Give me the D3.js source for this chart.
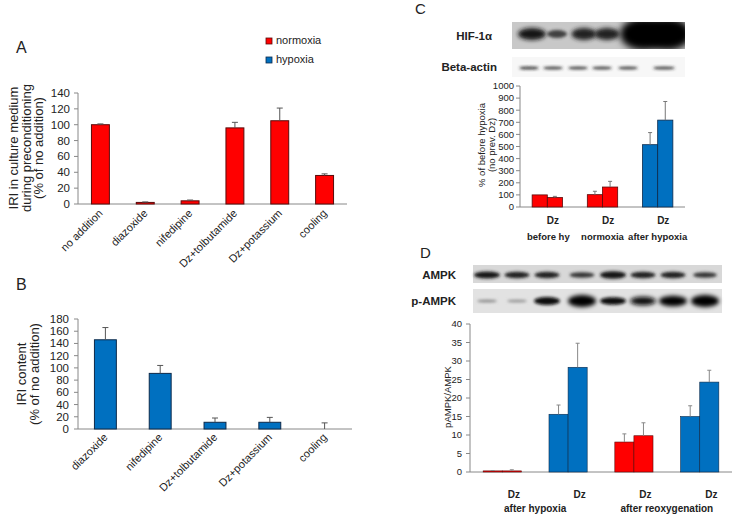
<!DOCTYPE html>
<html><head><meta charset="utf-8">
<script src="https://cdn.jsdelivr.net/npm/d3@7"></script>
<style>body{margin:0;background:#fff}svg{display:block}text{font-family:"Liberation Sans",Arial,sans-serif;fill:#222}</style>
</head><body>
<svg id="c" width="736" height="517"></svg>
<script>
// ---------- data ----------
const catsA = ["no addition","diazoxide","nifedipine","Dz+tolbutamide","Dz+potassium","cooling"];
const valsA = [100, 2, 4, 96, 105, 36];
const errA  = [1, 0.6, 1, 7, 16, 2];
const ticksA = [0,20,40,60,80,100,120,140];

const catsB = ["diazoxide","nifedipine","Dz+tolbutamide","Dz+potassium","cooling"];
const valsB = [146, 91, 11, 11, 0];
const errB  = [20, 13, 7, 8, 10];
const ticksB = [0,20,40,60,80,100,120,140,160,180];

const groupsC = ["before hy","normoxia","after hypoxia"];
const condC = ["normoxia","normoxia","hypoxia"];
const valsC = [[100,78],[102,165],[515,718]];
const errC  = [[0,10],[28,47],[100,154]];
const ticksC = [0,100,200,300,400,500,600,700,800,900,1000];

const condD = ["normoxia","hypoxia","normoxia","hypoxia"];
const valsD = [[0.3,0.3],[15.6,28.3],[8.1,9.8],[15,24.3]];
const errD  = [[0.1,0.3],[2.5,6.5],[2.2,3.5],[2.9,3.2]];
const groupLabelsD = ["after hypoxia","after reoxygenation"];
const ticksD = [0,5,10,15,20,25,30,35,40];

const legendItems = ["normoxia","hypoxia"];
// western blot bands: [intensity 0..1, thickness px, width px]
const hifBands   = [[0.9,12,28],[0.7,8,20],[0.85,12,25],[0.85,12,25],[1,32,46],[1,32,46]];
const actinBands = [[0.88,2.5,20],[0.8,2.5,20],[0.8,2.5,20],[0.8,2.5,20],[0.8,2.5,20],[0.82,2.5,22]];
const ampkBands  = [[0.9,7,26],[0.85,6.5,25],[0.85,6.5,25],[0.75,5.5,25],[0.9,7.5,26],[0.85,6.5,25],[0.85,6.5,25],[0.75,5.5,24]];
const pampkBands = [[0.4,2.5,20],[0.35,2.5,20],[0.95,8,26],[1,12,28],[0.95,7.5,26],[0.95,8.5,26],[1,10.5,28],[1,12,28]];

const colors = {normoxia:"#ff0000", hypoxia:"#0070c0"};
const strokes = {normoxia:"#5a0a0a", hypoxia:"#0d2a4a"};

const svg = d3.select("#c");
const defs = svg.append("defs");
[["blur",1.4],["blur2",3.5],["blur3",2.2]].forEach(([id,s])=>
  defs.append("filter").attr("id",id).attr("x","-50%").attr("y","-100%").attr("width","200%").attr("height","300%")
    .append("feGaussianBlur").attr("stdDeviation",s));

function yAxis(g, y, ticks, x0, fs, gap){
  g.append("line").attr("x1",x0).attr("x2",x0).attr("y1",y(ticks[ticks.length-1])).attr("y2",y(0)).attr("stroke","#888");
  ticks.forEach(t=>{
    g.append("line").attr("x1",x0-4).attr("x2",x0).attr("y1",y(t)).attr("y2",y(t)).attr("stroke","#888");
    g.append("text").attr("x",x0-gap).attr("y",y(t)).attr("dy","0.35em").attr("text-anchor","end").attr("font-size",fs).text(t);
  });
}
function errBar(g, x, y1, y2, cap, col){
  g.append("line").attr("x1",x).attr("x2",x).attr("y1",y1).attr("y2",y2).attr("stroke",col).attr("stroke-width",1);
  g.append("line").attr("x1",x-cap).attr("x2",x+cap).attr("y1",y2).attr("y2",y2).attr("stroke",col).attr("stroke-width",1);
}

// ---------- Panel A ----------
{
  const g = svg.append("g");
  const x = d3.scaleBand().domain(catsA).range([78,347]).paddingInner(0.6).paddingOuter(0.3);
  const y = d3.scaleLinear().domain([0,140]).range([204,93]);
  yAxis(g, y, ticksA, 78, 11.5, 8);
  g.append("line").attr("x1",78).attr("x2",347).attr("y1",204).attr("y2",204).attr("stroke","#888");
  catsA.forEach((c,i)=>{
    g.append("rect").attr("x",x(c)).attr("y",y(valsA[i])).attr("width",x.bandwidth()).attr("height",y(0)-y(valsA[i]))
      .attr("fill",colors.normoxia).attr("stroke",strokes.normoxia).attr("stroke-width",1);
    errBar(g, x(c)+x.bandwidth()/2, y(valsA[i]), y(valsA[i]+errA[i]), 3, "#555");
    const cx = x(c)+x.bandwidth()/2+3;
    g.append("text").attr("transform",`translate(${cx},214) rotate(-45)`).attr("text-anchor","end").attr("font-size",11).text(c);
  });
  const t = g.append("text").attr("transform","translate(0,148) rotate(-90)").attr("text-anchor","middle").attr("font-size",13);
  ["IRI in culture medium","during preconditioning","(% of no addition)"].forEach((s,i)=>
    t.append("tspan").attr("x",0).attr("y",18+i*12.5).text(s));
  g.append("text").attr("x",16).attr("y",53).attr("font-size",16).text("A");
  legendItems.forEach((k,i)=>{
    g.append("rect").attr("x",266).attr("y",38+i*19).attr("width",6).attr("height",6).attr("fill",colors[k]).attr("stroke",strokes[k]).attr("stroke-width",0.8);
    g.append("text").attr("x",276).attr("y",44+i*19).attr("font-size",11).text(k);
  });
}

// ---------- Panel B ----------
{
  const g = svg.append("g");
  const x = d3.scaleBand().domain(catsB).range([78,352]).paddingInner(0.6).paddingOuter(0.3);
  const y = d3.scaleLinear().domain([0,180]).range([429,319]);
  yAxis(g, y, ticksB, 78, 11.5, 9);
  g.append("line").attr("x1",78).attr("x2",352).attr("y1",429).attr("y2",429).attr("stroke","#888");
  catsB.forEach((c,i)=>{
    if(valsB[i]>0) g.append("rect").attr("x",x(c)).attr("y",y(valsB[i])).attr("width",x.bandwidth()).attr("height",y(0)-y(valsB[i]))
      .attr("fill",colors.hypoxia).attr("stroke",strokes.hypoxia).attr("stroke-width",1);
    errBar(g, x(c)+x.bandwidth()/2, y(valsB[i]), y(valsB[i]+errB[i]), 3, "#555");
    const cx = x(c)+x.bandwidth()/2+3;
    g.append("text").attr("transform",`translate(${cx},438) rotate(-45)`).attr("text-anchor","end").attr("font-size",11).text(c);
  });
  const t = g.append("text").attr("transform","translate(0,374) rotate(-90)").attr("text-anchor","middle").attr("font-size",13);
  ["IRI content","(% of no addition)"].forEach((s,i)=>
    t.append("tspan").attr("x",0).attr("y",26+i*12.5).text(s));
  g.append("text").attr("x",16).attr("y",290).attr("font-size",16).text("B");
}

function blot(g, x0, x1, y0, y1, bg, lanes, bands, yc){
  g.append("rect").attr("x",x0).attr("y",y0).attr("width",x1-x0).attr("height",y1-y0).attr("fill",bg);
  bands.forEach((b,i)=>{
    const v = Math.round(215*(1-b[0]));
    g.append("ellipse").attr("cx",lanes[i]).attr("cy",yc).attr("rx",b[2]/2).attr("ry",b[1]/2)
      .attr("fill",`rgb(${v},${v},${v})`).attr("filter",`url(#${b[1]>20?"blur2":(b[1]>8?"blur3":"blur")})`);
  });
}

// ---------- Panel C ----------
{
  const g = svg.append("g");
  g.append("text").attr("x",415).attr("y",14).attr("font-size",15).text("C");
  const lanes = [532,557,584,607,643,668];
  defs.append("clipPath").attr("id","hclip").append("rect").attr("x",512).attr("y",22).attr("width",173).attr("height",27);
  const hb = g.append("g").attr("clip-path","url(#hclip)");
  blot(hb, 512, 685, 22, 49, "#c8c8c8", lanes, hifBands, 34);
  blot(g, 512, 685, 57, 77, "#f7f7f7", [529,553,578,602,628,664], actinBands, 68);
  g.append("text").attr("x",492).attr("y",40).attr("text-anchor","end").attr("font-size",11.5).attr("font-weight","bold").text("HIF-1α");
  g.append("text").attr("x",497).attr("y",71).attr("text-anchor","end").attr("font-size",11.5).attr("font-weight","bold").text("Beta-actin");

  const x = d3.scaleBand().domain(groupsC).range([520,685]).paddingInner(0.45).paddingOuter(0.22);
  const y = d3.scaleLinear().domain([0,1000]).range([207,86]);
  yAxis(g, y, ticksC, 520, 9.5, 6);
  g.append("line").attr("x1",520).attr("x2",685).attr("y1",207).attr("y2",207).attr("stroke","#888");
  groupsC.forEach((gr,i)=>{
    const w = x.bandwidth()/2;
    valsC[i].forEach((v,j)=>{
      const bx = x(gr)+j*w;
      g.append("rect").attr("x",bx).attr("y",y(v)).attr("width",w).attr("height",y(0)-y(v))
        .attr("fill",colors[condC[i]]).attr("stroke",strokes[condC[i]]).attr("stroke-width",0.8);
      if(errC[i][j]>0) errBar(g, bx+w/2, y(v), y(v+errC[i][j]), 2, "#777");
    });
    g.append("text").attr("x",x(gr)+1.5*w-2).attr("y",224).attr("text-anchor","middle").attr("font-size",10).attr("font-weight","bold").text("Dz");
    g.append("text").attr("x",x(gr)+w+(i===0?1:0)).attr("y",240).attr("text-anchor","middle").attr("font-size",9.5).attr("font-weight","bold").text(gr);
  });
  const t = g.append("text").attr("transform","translate(0,145) rotate(-90)").attr("text-anchor","middle").attr("font-size",9.5);
  ["% of before hypoxia","(no prev. Dz)"].forEach((s,i)=>
    t.append("tspan").attr("x",0).attr("y",485+i*9.5).text(s));
}

// ---------- Panel D ----------
{
  const g = svg.append("g");
  g.append("text").attr("x",420).attr("y",258).attr("font-size",15).text("D");
  const lanes = [487,517,547,582,613,643,673,705];
  blot(g, 473, 722, 265, 283, "#d8d8d8", lanes, ampkBands, 275);
  blot(g, 473, 722, 289, 313, "#e2e2e2", lanes, pampkBands, 301);
  g.append("text").attr("x",456).attr("y",279).attr("text-anchor","end").attr("font-size",11.5).attr("font-weight","bold").text("AMPK");
  g.append("text").attr("x",456).attr("y",305).attr("text-anchor","end").attr("font-size",11.5).attr("font-weight","bold").text("p-AMPK");

  const gIdx = valsD.map((_,i)=>i);
  const x = d3.scaleBand().domain(gIdx).range([470,732]).paddingInner(0.42).paddingOuter(0.2);
  const y = d3.scaleLinear().domain([0,40]).range([472,324]);
  yAxis(g, y, ticksD, 470, 9.5, 8);
  g.append("line").attr("x1",470).attr("x2",732).attr("y1",472).attr("y2",472).attr("stroke","#888");
  gIdx.forEach(i=>{
    const w = x.bandwidth()/2;
    valsD[i].forEach((v,j)=>{
      const bx = x(i)+j*w;
      g.append("rect").attr("x",bx).attr("y",y(v)).attr("width",w).attr("height",y(0)-y(v))
        .attr("fill",colors[condD[i]]).attr("stroke",strokes[condD[i]]).attr("stroke-width",0.6);
      errBar(g, bx+w/2, y(v), y(v+errD[i][j]), 2, "#888");
    });
    g.append("text").attr("x",x(i)+1.5*w+2).attr("y",498).attr("text-anchor","middle").attr("font-size",10).attr("font-weight","bold").text("Dz");
  });
  groupLabelsD.forEach((s,k)=>{
    const cx = (x(2*k)+x(2*k+1)+x.bandwidth())/2;
    g.append("text").attr("x",cx).attr("y",512).attr("text-anchor","middle").attr("font-size",10).attr("font-weight","bold").text(s);
  });
  g.append("text").attr("transform","translate(451,397) rotate(-90)").attr("text-anchor","middle").attr("font-size",9.5).text("pAMPK/AMPK");
}
</script>
</body></html>
